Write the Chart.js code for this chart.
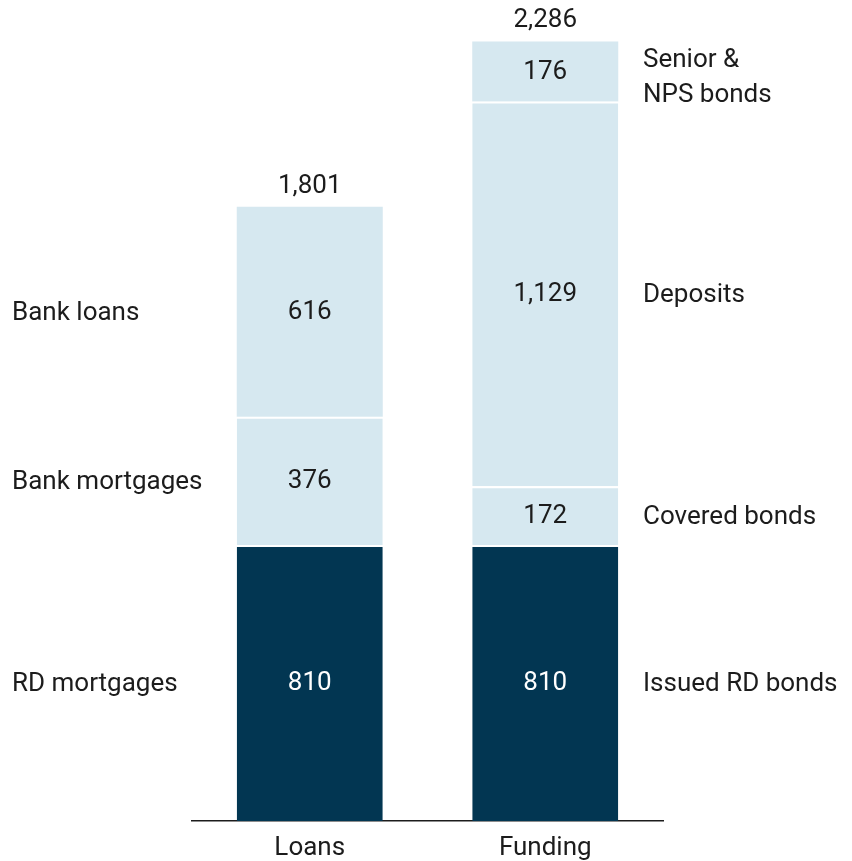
<!DOCTYPE html>
<html>
<head>
<meta charset="utf-8">
<script src="https://cdn.jsdelivr.net/npm/chart.js@4"></script>
<style>
  body { margin: 0; background: #fff; }
  #wrap { width: 852px; height: 861px; }
</style>
</head>
<body>
<div id="wrap"><canvas id="chart"></canvas></div>
<script>
// bars
const categories = ["Loans", "Funding"];
const totals = [1801, 2286];

// stack segments, bottom to top
const rdValues = [810, 810];
const midValues = [376, 172];
const upperValues = [616, 1129];
const topValues = [null, 176];

// side labels, bottom to top
const loanLabels = ["RD mortgages", "Bank mortgages", "Bank loans"];
const fundingLabels = ["Issued RD bonds", "Covered bonds", "Deposits", ["Senior &", "NPS bonds"]];

const DARK = "#023652";
const LIGHT = "#d6e8f0";
const TEXT = "#1c1c1c";
const FONT = "Roboto, 'DejaVu Sans', sans-serif";
const SIZE = 26;

const series = [rdValues, midValues, upperValues, topValues];

// white gap on top of every segment except the topmost one
function topBorder(ctx) {
    const i = ctx.dataIndex;
    let last = -1;
    series.forEach((s, k) => { if (s[i] != null) last = k; });
    return { top: ctx.datasetIndex === last ? 0 : 2, left: 0, right: 0, bottom: 0 };
}

const labelPlugin = {
    id: "labels",
    afterDatasetsDraw(chart) {
        const c = chart.ctx;
        const y = chart.scales.y;
        c.save();
        c.font = SIZE + "px " + FONT;
        c.textBaseline = "middle";

        chart.data.datasets.forEach((ds, di) => {
            chart.getDatasetMeta(di).data.forEach((bar, i) => {
                const v = ds.data[i];
                if (v == null) return;
                const mid = (bar.y + bar.base) / 2;
                c.textAlign = "center";
                c.fillStyle = di === 0 ? "#ffffff" : TEXT;
                c.fillText(v.toLocaleString("en-US"), bar.x, mid + 1);

                c.fillStyle = TEXT;
                c.textAlign = "left";
                if (i === 0) {
                    c.fillText(loanLabels[di], 12, mid + 2);
                } else {
                    const lab = fundingLabels[di];
                    if (Array.isArray(lab)) {
                        c.fillText(lab[0], 643, mid - 11);
                        c.fillText(lab[1], 643, mid + 24);
                    } else {
                        c.fillText(lab, 643, mid + 2);
                    }
                }
            });
        });

        // totals above the bars
        const meta = chart.getDatasetMeta(0);
        totals.forEach((t, i) => {
            c.textAlign = "center";
            c.fillStyle = TEXT;
            c.fillText(t.toLocaleString("en-US"), meta.data[i].x, y.getPixelForValue(t) - 21);
        });
        c.restore();
    }
};

new Chart(document.getElementById("chart"), {
    type: "bar",
    data: {
        labels: categories,
        datasets: series.map(s => ({
            data: s,
            backgroundColor: s === rdValues ? DARK : LIGHT,
            borderColor: "#ffffff",
            borderWidth: topBorder,
            borderSkipped: false,
            barPercentage: 0.62,
            categoryPercentage: 1
        }))
    },
    options: {
        responsive: true,
        maintainAspectRatio: false,
        animation: false,
        layout: { padding: { left: 192, right: 189, top: 3, bottom: -14 } },
        plugins: { legend: { display: false }, tooltip: { enabled: false } },
        scales: {
            x: {
                stacked: true,
                grid: { display: false, drawTicks: false, tickLength: 0 },
                border: { display: true, color: "#1c1c1c", width: 1.5 },
                ticks: { color: TEXT, font: { family: FONT, size: SIZE, lineHeight: 1 }, padding: 14 }
            },
            y: {
                stacked: true,
                display: false,
                min: 0,
                max: 2400
            }
        }
    },
    plugins: [labelPlugin]
});
</script>
</body>
</html>
